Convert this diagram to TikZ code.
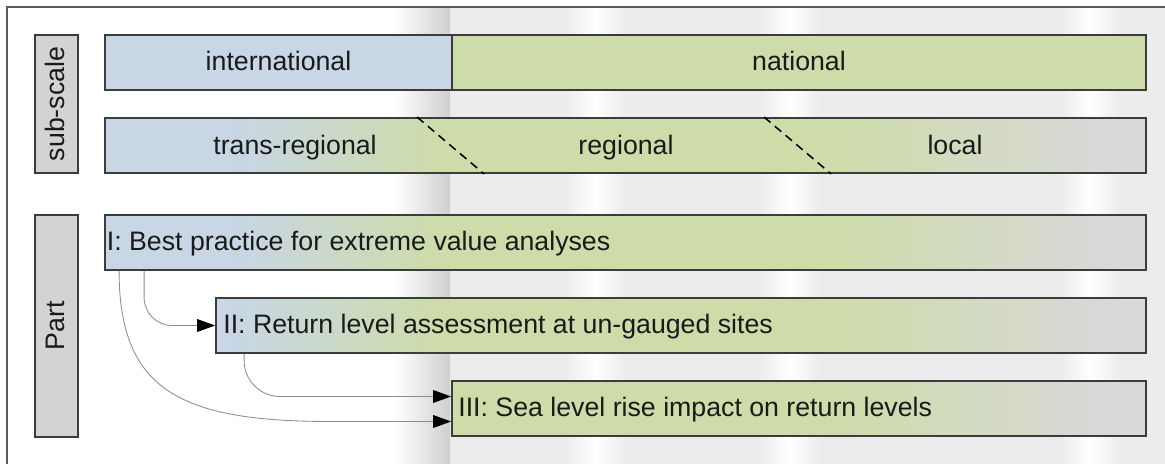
\documentclass[tikz,border=0pt]{standalone}
\usepackage{fontspec}
\setmainfont{Liberation Sans}
\usepackage{tikz}
\usetikzlibrary{arrows.meta, positioning, fit, calc}
\definecolor{scaleblue}{HTML}{C8D6E6}
\definecolor{scalegreen}{HTML}{CDDCA9}
\definecolor{scalegrey}{HTML}{D9D9D9}
\definecolor{tagcolor}{HTML}{D3D3D3}
\definecolor{edgecolor}{HTML}{3C3C3C}
\definecolor{framecolor}{HTML}{5A5A5A}
\definecolor{linkcolor}{HTML}{8C8C8C}
\definecolor{textcolor}{HTML}{1A1A1A}
\definecolor{sheetgrey}{HTML}{ECECEC}
\definecolor{bandgrey}{HTML}{CFCFCF}

\pgfdeclarehorizontalshading{scalefade}{100bp}{color(0bp)=(scaleblue); color(31bp)=(scaleblue); color(41bp)=(scalegreen); color(60bp)=(scalegreen); color(73bp)=(scalegrey); color(100bp)=(scalegrey)}

\begin{document}
\begin{tikzpicture}[
        x=0.025cm, y=-0.025cm,
        every node/.style={font=\fontsize{19}{23}\selectfont, text=textcolor,
                           text height=12pt, text depth=0pt},
        scalebox/.style={rectangle, draw=edgecolor, line width=1.3pt, inner sep=0pt},
        tagbox/.style={scalebox, fill=tagcolor},
        fadebox/.style={scalebox, path picture={
            \shade[shading=scalefade] (gl |- path picture bounding box.north)
                rectangle (gr |- path picture bounding box.south);}},
        parttext/.style={anchor=west, inner sep=0pt},
        divider/.style={black, line width=1.1pt, dash pattern=on 6pt off 4pt},
        link/.style={draw=linkcolor, line width=0.6pt,
                     -{Triangle[length=4.5mm, width=3.2mm, color=black]}}
    ]
        \useasboundingbox (0,0) rectangle (1165,464);

        % sheet
        \fill[white] (0,0) rectangle (1165,464);
        \fill[sheetgrey] (450,7) rectangle (1165,464);
        \shade[left color=white, right color=bandgrey] (395,7) rectangle (450,464);
        \foreach \s in {595,790,1090} {
            \shade[left color=sheetgrey, right color=white] (\s-30,7) rectangle (\s,464);
            \shade[left color=white, right color=sheetgrey] (\s,7) rectangle (\s+30,464);
        }
        \draw[framecolor, line width=1.3pt] (7,464) |- (1165,7);

        \coordinate (gl) at (105,0);
        \coordinate (gr) at (1146,0);

        % sub-scale
        \node[tagbox, fit={(35,35) (78,173)}] (subtag) {};
        \node[rotate=90] (sublabel) at (subtag) {sub-scale};

        \node[scalebox, fill=scaleblue, fit={(105,35) (452,90)}] (intl) {};
        \node[scalebox, fill=scalegreen, fit={(452,35) (1146,90)}] (natl) {};
        \node (intltext) at (intl) {international};
        \node (natltext) at (natl) {national};

        \node[fadebox, fit={(105,118) (1146,173)}] (subrow) {};
        \node (trans) at (295,146) {trans-regional};
        \node (reg) at (626,146) {regional};
        \node (loc) at (955,146) {local};
        \draw[divider] ($(subrow.north west)+(313,0)$) -- ($(subrow.south west)+(380,0)$);
        \draw[divider] ($(subrow.north west)+(660,0)$) -- ($(subrow.south west)+(727,0)$);

        % parts
        \node[tagbox, fit={(35,215) (78,437)}] (parttag) {};
        \node[rotate=90] (partlabel) at (parttag) {Part};

        \node[fadebox, fit={(105,215) (1146,270)}] (partI) {};
        \node[fadebox, fit={(216,298) (1146,353)}] (partII) {};
        \node[fadebox, fit={(452,381) (1146,436)}] (partIII) {};
        \node[parttext] (textI) at ($(partI.west)+(2.5,0)$)
            {I: Best practice for extreme value analyses};
        \node[parttext] (textII) at ($(partII.west)+(8,0)$)
            {II: Return level assessment at un-gauged sites};
        \node[parttext] (textIII) at ($(partIII.west)+(7,0)$)
            {III: Sea level rise impact on return levels};

        \draw[link, rounded corners=0.7cm]
            ($(partI.south west)+(40,0)$) |- (partII.west);
        \draw[link, rounded corners=0.9cm]
            ($(partII.south west)+(29,0)$) |- ($(partIII.west)+(0,-12)$);
        \draw[link]
            ($(partI.south west)+(15,0)$) .. controls +(0,120) and +(-150,0) ..
            ($(partIII.west)+(-120,13)$) -- ($(partIII.west)+(0,13)$);
    \end{tikzpicture}
\end{document}
